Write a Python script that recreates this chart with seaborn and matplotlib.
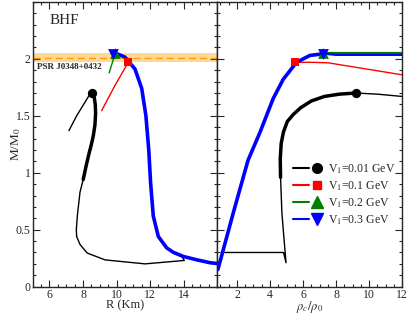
"""
Mass-radius and mass-central density curves for BHF EOS with different V1.
"""
import matplotlib
matplotlib.use("Agg")
import matplotlib.pyplot as plt
from matplotlib.lines import Line2D
from matplotlib.legend_handler import HandlerTuple
from matplotlib.ticker import MultipleLocator, FuncFormatter
import seaborn as sns

# ---- data ------------------------------------------------------------------
# left panel: M vs R
black_R_thin = [7.16, 7.62, 8.12, 8.41, 8.55]
black_M_thin = [1.37, 1.50, 1.62, 1.69, 1.70]
black_R_thick = [8.55, 8.66, 8.73, 8.75, 8.71, 8.62, 8.50, 8.36, 8.20, 8.01]
black_M_thick = [1.70, 1.67, 1.60, 1.52, 1.42, 1.33, 1.25, 1.17, 1.07, 0.94]
black_R_low = [8.01, 7.82, 7.66, 7.60, 7.62, 7.82, 8.25, 9.31, 11.7, 14.04, 13.88]
black_M_low = [0.94, 0.83, 0.62, 0.50, 0.44, 0.37, 0.295, 0.235, 0.20, 0.23, 0.27]

blue_R = [16.2, 15.58, 14.8, 13.98, 13.4, 12.99, 12.49, 12.19, 12.03, 11.92,
          11.75, 11.5, 11.1, 10.5, 10.1, 9.81]
blue_M = [0.20, 0.21, 0.235, 0.265, 0.30, 0.34, 0.44, 0.62, 0.91, 1.20,
          1.50, 1.74, 1.91, 2.015, 2.04, 2.045]
red_R = [9.11, 9.9, 10.7]
red_M = [1.545, 1.765, 1.97]
green_R = [9.56, 9.92]
green_M = [1.877, 2.05]

# right panel: M vs rho_c/rho_0
black_rho_low = [1.25, 4.82, 4.97, 4.86, 4.72, 4.64]
black_Mr_low = [0.30, 0.30, 0.21, 0.40, 0.65, 0.96]
black_rho_thick = [4.64, 4.62, 4.68, 4.82, 5.05, 5.40, 5.85, 6.50, 7.30, 8.20, 9.20]
black_Mr_thick = [0.96, 1.12, 1.26, 1.36, 1.45, 1.51, 1.57, 1.63, 1.67, 1.69, 1.70]
black_rho_thin = [9.2, 10.5, 12.0]
black_Mr_thin = [1.70, 1.69, 1.67]

blue_rho = [0.84, 1.05, 1.76, 2.67, 3.38, 4.19, 4.80, 5.61, 6.42, 7.27]
blue_Mr = [0.15, 0.26, 0.64, 1.11, 1.35, 1.65, 1.82, 1.97, 2.03, 2.045]
blue_rho_flat = [7.27, 8.0, 12.0]
blue_Mr_flat = [2.045, 2.035, 2.035]
red_rho = [5.51, 6.5, 7.53, 12.0]
red_Mr = [1.97, 1.97, 1.965, 1.86]
green_rho = [7.23, 12.0]
green_Mr = [2.05, 2.05]

# maximum-mass markers: (R, rho_c, M)
max_black = (8.55, 9.2, 1.70)
max_red = (10.7, 5.51, 1.97)
max_green = (9.92, 7.23, 2.05)
max_blue = (9.81, 7.23, 2.045)

psr_mass, psr_err = 2.01, 0.04
labels = ["V$_1$=0.01 GeV", "V$_1$=0.1 GeV", "V$_1$=0.2 GeV", "V$_1$=0.3 GeV"]

# ---- style -----------------------------------------------------------------
sns.set_style("ticks")
plt.rcParams["font.family"] = ["Liberation Serif", "DejaVu Serif"]
plt.rcParams["mathtext.fontset"] = "stix"
plt.rcParams["font.size"] = 9

fig = plt.figure(figsize=(4.09, 3.15), dpi=100)
axL = fig.add_axes([0.080, 0.090, 0.451, 0.904])
axR = fig.add_axes([0.531, 0.090, 0.452, 0.904])


def line(ax, x, y, color, lw):
    sns.lineplot(x=x, y=y, sort=False, estimator=None, color=color,
                 linewidth=lw, ax=ax, legend=False)


def marker(ax, x, y, color, m, s):
    sns.scatterplot(x=[x], y=[y], color=color, marker=m, s=s,
                    edgecolor=color, linewidth=0, ax=ax, zorder=5, legend=False)


# left panel
axL.axhspan(psr_mass - psr_err, psr_mass + psr_err, color="#ffc04d", alpha=0.6,
            lw=0, zorder=0)
axL.axhline(psr_mass, color="#ff9a00", ls=(0, (5, 3)), lw=1.0, zorder=1)
line(axL, black_R_thin, black_M_thin, "black", 1.0)
line(axL, black_R_thick, black_M_thick, "black", 2.5)
line(axL, black_R_low, black_M_low, "black", 1.0)
line(axL, red_R, red_M, "red", 1.0)
line(axL, green_R, green_M, "green", 1.0)
line(axL, blue_R, blue_M, "blue", 2.6)
marker(axL, max_black[0], max_black[2], "black", "o", 45)
marker(axL, max_red[0], max_red[2], "red", "s", 30)
marker(axL, max_green[0], max_green[2], "green", "^", 60)
marker(axL, max_blue[0], max_blue[2], "blue", "v", 60)
axL.text(5.25, 1.93, "PSR J0348+0432", fontsize=6.5, fontweight="bold",
         va="center", ha="left")
axL.text(6.0, 2.34, "BHF", fontsize=11, va="center", ha="left")

# right panel
line(axR, black_rho_low, black_Mr_low, "black", 1.0)
line(axR, black_rho_thick, black_Mr_thick, "black", 2.5)
line(axR, black_rho_thin, black_Mr_thin, "black", 1.0)
line(axR, red_rho, red_Mr, "red", 1.0)
line(axR, green_rho, green_Mr, "green", 1.6)
line(axR, blue_rho_flat, blue_Mr_flat, "blue", 1.6)
line(axR, blue_rho, blue_Mr, "blue", 2.6)
marker(axR, max_black[1], max_black[2], "black", "o", 45)
marker(axR, max_red[1], max_red[2], "red", "s", 30)
marker(axR, max_green[1], max_green[2], "green", "^", 60)
marker(axR, max_blue[1], max_blue[2], "blue", "v", 60)

# legend: line followed by marker
handles = []
for c, m, ms in [("black", "o", 7), ("red", "s", 6), ("green", "^", 8),
                 ("blue", "v", 8)]:
    handles.append((Line2D([], [], color=c, lw=1.5),
                    Line2D([], [], color=c, marker=m, ls="", ms=ms)))
axR.legend(handles, labels, handler_map={tuple: HandlerTuple(ndivide=2, pad=0.0)},
           loc="upper right", bbox_to_anchor=(1.0, 0.462), frameon=False,
           fontsize=8.5, handlelength=2.7, handletextpad=0.25, labelspacing=0.3,
           borderaxespad=0.2)

# axes cosmetics
fmt = FuncFormatter(lambda v, p: f"{v:g}")
for ax in (axL, axR):
    ax.set_ylim(0, 2.5)
    ax.set_yticks([0, 0.5, 1.0, 1.5, 2.0])
    ax.yaxis.set_minor_locator(MultipleLocator(0.1))
    ax.xaxis.set_minor_locator(MultipleLocator(0.5))
    ax.tick_params(which="both", direction="in", top=True, right=True,
                   labelsize=8.5, pad=1.5)
    ax.tick_params(which="major", length=5, width=0.8)
    ax.tick_params(which="minor", length=2.5, width=0.8)
    for sp in ax.spines.values():
        sp.set_linewidth(1.0)
    ax.yaxis.set_major_formatter(fmt)

axL.set_xlim(5, 16)
axL.set_xticks([6, 8, 10, 12, 14])
axR.set_xlim(0.8, 12)
axR.set_xticks([2, 4, 6, 8, 10, 12])
axR.tick_params(labelleft=False)

axL.set_xlabel("R (Km)", fontsize=9)
axL.xaxis.set_label_coords(0.5, -0.044)
axL.set_ylabel("M/M$_0$", fontsize=9.5, labelpad=1)
axL.yaxis.set_label_coords(-0.055, 0.5)
axR.set_xlabel(r"$\rho_c/\rho_0$", fontsize=9)
axR.xaxis.set_label_coords(0.5, -0.044)
axR.set_ylabel("")

fig.savefig("out.png", dpi=100)
